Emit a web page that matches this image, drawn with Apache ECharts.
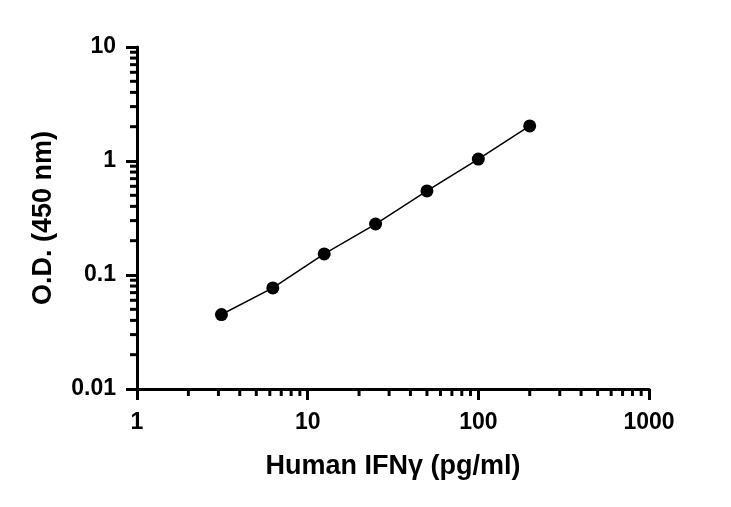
<!DOCTYPE html>
<html>
<head>
<meta charset="utf-8">
<script src="https://cdn.jsdelivr.net/npm/echarts@6/dist/echarts.min.js"></script>
<style>
  html, body { margin: 0; padding: 0; background: #fff; }
  #chart { width: 731px; height: 507px; }
</style>
</head>
<body>
<div id="chart"></div>
<script>
// concentrations (pg/ml) and O.D. readings
var conc = [3.125, 6.25, 12.5, 25, 50, 100, 200];
var od = [0.045, 0.077, 0.153, 0.28, 0.546, 1.04, 2.03];
// minor tick positions for each log axis
var xMinor = [2, 3, 4, 5, 6, 7, 8, 9, 20, 30, 40, 50, 60, 70, 80, 90, 200, 300, 400, 500, 600, 700, 800, 900];
var yMinor = [0.02, 0.03, 0.04, 0.05, 0.06, 0.07, 0.08, 0.09, 0.2, 0.3, 0.4, 0.5, 0.6, 0.7, 0.8, 0.9, 2, 3, 4, 5, 6, 7, 8, 9];

var chart = echarts.init(document.getElementById('chart'));
var font = 'Liberation Sans, Arial, sans-serif';

function fmt(v) { return String(+(+v).toPrecision(3)); }

chart.setOption({
    animation: false,
    grid: { left: 137, right: 82, top: 47, bottom: 118 },
    xAxis: {
        type: 'log',
        logBase: 10,
        min: 1,
        max: 1000,
        name: 'Human IFNγ (pg/ml)',
        nameLocation: 'middle',
        nameGap: 64,
        nameTextStyle: { color: '#000', fontSize: 27, fontWeight: 'bold', fontFamily: font },
        axisLine: { lineStyle: { color: '#000', width: 3 } },
        axisTick: { length: 11, lineStyle: { color: '#000', width: 3 } },
        axisLabel: { color: '#000', fontSize: 23, fontWeight: 'bold', fontFamily: font, margin: 22, formatter: fmt },
        splitLine: { show: false }
    },
    yAxis: {
        type: 'log',
        logBase: 10,
        min: 0.01,
        max: 10,
        name: 'O.D. (450 nm)',
        nameLocation: 'middle',
        nameGap: 80,
        nameTextStyle: { color: '#000', fontSize: 27, fontWeight: 'bold', fontFamily: font },
        axisLine: { lineStyle: { color: '#000', width: 3 } },
        axisTick: { length: 11, lineStyle: { color: '#000', width: 3 } },
        axisLabel: { color: '#000', fontSize: 23, fontWeight: 'bold', fontFamily: font, margin: 21, formatter: fmt },
        splitLine: { show: false }
    },
    series: [
        {
            type: 'custom',
            silent: true,
            clip: false,
            data: xMinor,
            renderItem: function (params, api) {
                var p = api.coord([api.value(0), 0.01]);
                return {
                    type: 'line',
                    shape: { x1: p[0], y1: p[1], x2: p[0], y2: p[1] + 7 },
                    style: { stroke: '#000', lineWidth: 3 }
                };
            },
            encode: { x: 0 }
        },
        {
            type: 'custom',
            silent: true,
            clip: false,
            data: yMinor,
            renderItem: function (params, api) {
                var p = api.coord([1, api.value(0)]);
                return {
                    type: 'line',
                    shape: { x1: p[0], y1: p[1], x2: p[0] - 7, y2: p[1] },
                    style: { stroke: '#000', lineWidth: 3 }
                };
            },
            encode: { y: 0 }
        },
        {
            type: 'line',
            data: conc.map(function (c, i) { return [c, od[i]]; }),
            symbol: 'circle',
            symbolSize: 13,
            lineStyle: { color: '#000', width: 1.5 },
            itemStyle: { color: '#000' }
        }
    ]
});
</script>
</body>
</html>
